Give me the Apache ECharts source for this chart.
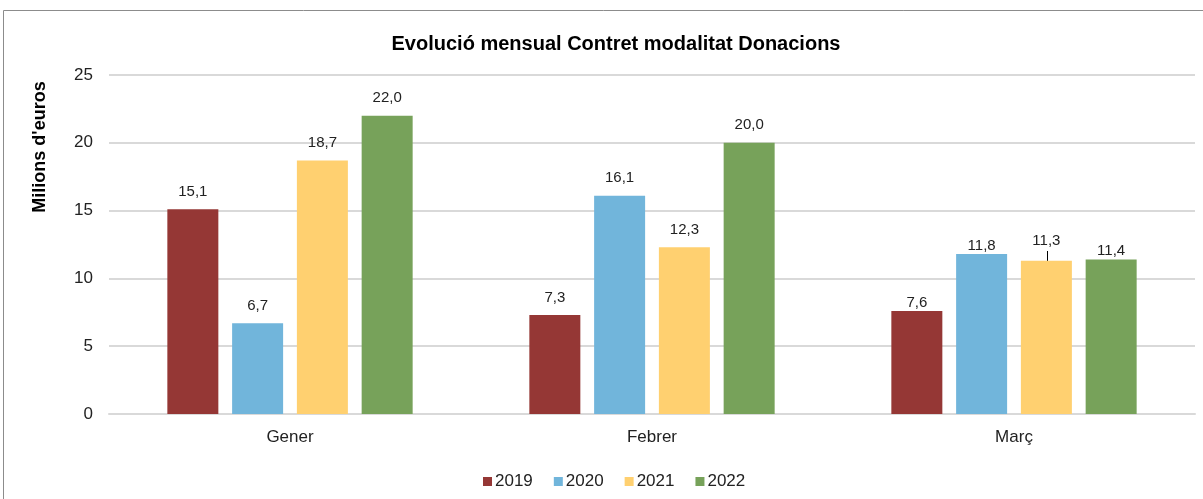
<!DOCTYPE html>
<html>
<head>
<meta charset="utf-8">
<script src="https://cdn.jsdelivr.net/npm/echarts@6/dist/echarts.min.js"></script>
<style>
  html, body { margin: 0; padding: 0; background: #fff; }
  #chart { width: 1203px; height: 499px; }
</style>
</head>
<body>
<div id="chart"></div>
<script>
const months = ['Gener', 'Febrer', 'Març'];
const years = ['2019', '2020', '2021', '2022'];
const values2019 = [15.1, 7.3, 7.6];
const values2020 = [6.7, 16.1, 11.8];
const values2021 = [18.7, 12.3, 11.3];
const values2022 = [22.0, 20.0, 11.4];
const yTicks = [0, 5, 10, 15, 20, 25];

const colors = ['#953735', '#71b5db', '#ffd070', '#77a25a'];
const allValues = [values2019, values2020, values2021, values2022];

const font = 'Liberation Sans, Arial, sans-serif';
const chart = echarts.init(document.getElementById('chart'));

const series = years.map((y, i) => ({
  name: y,
  type: 'bar',
  barWidth: 51,
  barGap: '27%',
  itemStyle: { color: colors[i] },
  data: allValues[i].map((v, j) => ({
    value: v,
    // labels of the last group sit closer to the bars, as in the original
    label: j === 2 ? { distance: i === 2 ? 12 : 1 } : undefined
  })),
  label: {
    show: true,
    position: 'top',
    distance: 10,
    fontFamily: font,
    fontSize: 15,
    color: '#222',
    formatter: p => p.value.toFixed(1).replace('.', ',')
  }
}));

const option = {
  animation: false,
  title: {
    text: 'Evolució mensual Contret modalitat Donacions',
    left: 611,
    top: 29,
    textAlign: 'center',
    textStyle: { fontFamily: font, fontSize: 20, fontWeight: 'bold', color: '#000' }
  },
  legend: {
    data: years,
    left: 478,
    top: 468,
    icon: 'rect',
    itemWidth: 9,
    itemHeight: 9,
    itemGap: 21,
    textStyle: { fontFamily: font, fontSize: 17, color: '#222', padding: [0, 0, 0, -2] }
  },
  grid: { left: 109, right: 8, top: 75, bottom: 85, containLabel: false },
  xAxis: {
    type: 'category',
    data: months,
    axisLine: { lineStyle: { color: '#d9d9d9', width: 2 } },
    axisTick: { show: false },
    axisLabel: { fontFamily: font, fontSize: 17, color: '#222', margin: 15 }
  },
  yAxis: {
    type: 'value',
    min: yTicks[0],
    max: yTicks[yTicks.length - 1],
    interval: 5,
    axisLine: { show: false },
    axisTick: { show: false },
    splitLine: { lineStyle: { color: '#d9d9d9', width: 2 } },
    axisLabel: { fontFamily: font, fontSize: 17, color: '#222', margin: 16 }
  },
  graphic: [
    {
      type: 'rect',
      shape: { x: 3.5, y: 10.5, width: 1220, height: 520 },
      style: { fill: 'none', stroke: '#8c8c8c', lineWidth: 1 },
      silent: true
    },
    {
      type: 'text',
      x: 40,
      y: 147,
      rotation: Math.PI / 2,
      style: {
        text: "Milions d'euros",
        fontFamily: font,
        fontSize: 18,
        fontWeight: 'bold',
        fill: '#000',
        textAlign: 'center',
        textVerticalAlign: 'middle'
      }
    },
    {
      // short leader line for the 11,3 label
      type: 'line',
      shape: { x1: 1047.5, y1: 251, x2: 1047.5, y2: 262 },
      style: { stroke: '#000', lineWidth: 1 },
      silent: true
    }
  ],
  series: series
};

chart.setOption(option);
window.addEventListener('resize', () => chart.resize());
</script>
</body>
</html>
